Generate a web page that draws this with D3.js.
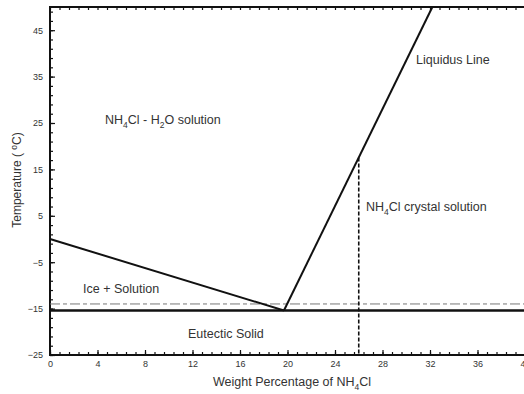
<!DOCTYPE html>
<html>
<head>
<meta charset="utf-8">
<script src="https://cdn.jsdelivr.net/npm/d3@7"></script>
<style>
body { margin: 0; background: #fff; }
svg { display: block; font-family: "Liberation Sans", Arial, sans-serif; }
.lbl { fill: #333; font-size: 12.5px; }
.tick text { fill: #333; font-size: 9px; }
</style>
</head>
<body>
<svg width="524" height="394"></svg>
<script>
var svg = d3.select("svg");

// data
var xTicks = [0, 4, 8, 12, 16, 20, 24, 28, 32, 36, 40];
var yTicks = [-25, -15, -5, 5, 15, 25, 35, 45];
var iceLine = [[0, 0], [19.7, -15.4]];          // freezing point line
var liquidus = [[19.7, -15.4], [32.2, 50]];     // NH4Cl liquidus
var eutecticT = -15.4;
var dashT = -14;                                // dash-dot reference line
var sampleX = 26;                               // 26 wt% composition

var x = d3.scaleLinear().domain([0, 40]).range([50, 525]);
var y = d3.scaleLinear().domain([-25, 50]).range([355, 7]);

// axes, ticks pointing inward
function minor(step, lo, hi) { return d3.range(lo, hi + 0.001, step); }

svg.append("g").attr("transform", "translate(0,355)")
  .call(d3.axisBottom(x).tickValues(minor(0.8, 0, 40)).tickSize(-3).tickFormat(""))
  .call(g => g.select(".domain").remove());
svg.append("g").attr("transform", "translate(0,355)")
  .call(d3.axisBottom(x).tickValues(xTicks).tickSize(-5).tickPadding(6))
  .call(g => g.select(".domain").remove());
svg.append("g").attr("transform", "translate(0,7)")
  .call(d3.axisTop(x).tickValues(minor(0.8, 0, 40)).tickSize(-3).tickFormat(""))
  .call(g => g.select(".domain").remove());

svg.append("g").attr("transform", "translate(50,0)")
  .call(d3.axisLeft(y).tickValues(minor(2, -25, 50)).tickSize(-3).tickFormat(""))
  .call(g => g.select(".domain").remove());
svg.append("g").attr("transform", "translate(50,0)")
  .call(d3.axisLeft(y).tickValues(yTicks).tickSize(-5).tickPadding(7))
  .call(g => g.select(".domain").remove());

svg.selectAll(".tick line").attr("stroke", "#111").attr("stroke-width", 1.2);

// frame
svg.append("rect")
  .attr("x", x(0)).attr("y", y(50))
  .attr("width", x(40) - x(0)).attr("height", y(-25) - y(50))
  .attr("fill", "none").attr("stroke", "#111").attr("stroke-width", 2);

var line = d3.line().x(d => x(d[0])).y(d => y(d[1]));

// dash-dot line
svg.append("line")
  .attr("x1", x(0)).attr("x2", x(40)).attr("y1", y(dashT)).attr("y2", y(dashT))
  .attr("stroke", "#777").attr("stroke-width", 1).attr("stroke-dasharray", "10,3,4,3");

// eutectic line
svg.append("line")
  .attr("x1", x(0)).attr("x2", x(40)).attr("y1", y(eutecticT)).attr("y2", y(eutecticT))
  .attr("stroke", "#111").attr("stroke-width", 2.5);

svg.append("path").attr("d", line(iceLine))
  .attr("fill", "none").attr("stroke", "#111").attr("stroke-width", 2);
svg.append("path").attr("d", line(liquidus))
  .attr("fill", "none").attr("stroke", "#111").attr("stroke-width", 2);

// vertical composition line up to liquidus
var slope = (liquidus[1][1] - liquidus[0][1]) / (liquidus[1][0] - liquidus[0][0]);
var topT = liquidus[0][1] + (sampleX - liquidus[0][0]) * slope;
svg.append("line")
  .attr("x1", x(sampleX)).attr("x2", x(sampleX)).attr("y1", y(topT)).attr("y2", y(-25))
  .attr("stroke", "#111").attr("stroke-width", 1.6).attr("stroke-dasharray", "4,2");

// labels, with sub/superscripts
function label(px, py, parts) {
  var t = svg.append("text").attr("class", "lbl").attr("x", px).attr("y", py);
  var shift = 0;
  parts.forEach(function(p) {
    var s = t.append("tspan").text(p.t);
    var want = p.sub ? 4 : p.sup ? -4 : 0;
    if (want != shift) s.attr("dy", want - shift);
    if (want) s.attr("font-size", "8.5px");
    shift = want;
  });
  return t;
}

label(105, 124, [{t: "NH"}, {t: "4", sub: 1}, {t: "Cl - H"}, {t: "2", sub: 1}, {t: "O solution"}]);
label(416, 64, [{t: "Liquidus Line"}]);
label(366, 211, [{t: "NH"}, {t: "4", sub: 1}, {t: "Cl crystal solution"}]);
label(83, 293, [{t: "Ice + Solution"}]);
label(188, 338, [{t: "Eutectic Solid"}]);
label(213, 386, [{t: "Weight Percentage of NH"}, {t: "4", sub: 1}, {t: "Cl"}]);

label(0, 0, [{t: "Temperature (\u00a0"}, {t: "o", sup: 1}, {t: "C)"}])
  .attr("transform", "translate(21,180) rotate(-90)")
  .attr("text-anchor", "middle")
  .style("font-size", "12px");
</script>
</body>
</html>
